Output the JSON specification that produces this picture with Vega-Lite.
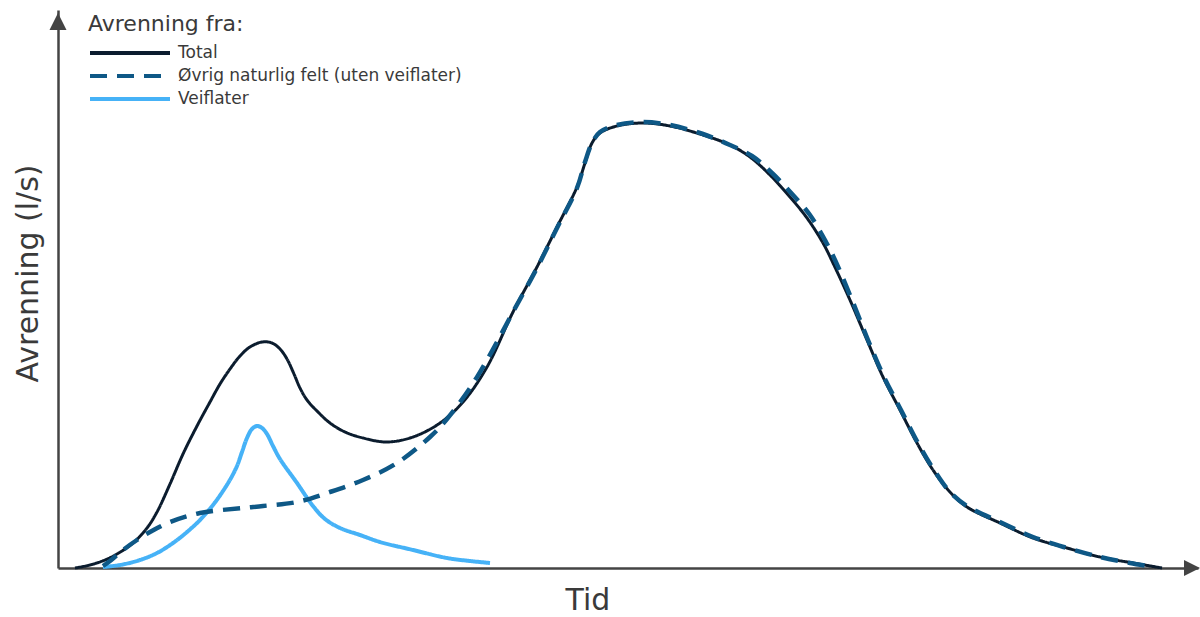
{
  "$schema": "https://vega.github.io/schema/vega-lite/v6.json",
  "width": 1140,
  "height": 558,
  "autosize": {"type": "none"},
  "padding": {"left": 58, "top": 10, "right": 2, "bottom": 49},
  "background": "white",
  "config": {
    "view": {"stroke": null},
    "font": "DejaVu Sans"
  },
  "datasets": {
    "curves": [
      {"series": "Total", "t": 75, "q": 0},
      {"series": "Total", "t": 90, "q": 3},
      {"series": "Total", "t": 105, "q": 8},
      {"series": "Total", "t": 117, "q": 14},
      {"series": "Total", "t": 133, "q": 25},
      {"series": "Total", "t": 147, "q": 40},
      {"series": "Total", "t": 157, "q": 56},
      {"series": "Total", "t": 170, "q": 84},
      {"series": "Total", "t": 183, "q": 114},
      {"series": "Total", "t": 197, "q": 142},
      {"series": "Total", "t": 210, "q": 166},
      {"series": "Total", "t": 220, "q": 184},
      {"series": "Total", "t": 230, "q": 199},
      {"series": "Total", "t": 240, "q": 212},
      {"series": "Total", "t": 250, "q": 221},
      {"series": "Total", "t": 262, "q": 226},
      {"series": "Total", "t": 272, "q": 225},
      {"series": "Total", "t": 280, "q": 219},
      {"series": "Total", "t": 287, "q": 209},
      {"series": "Total", "t": 294, "q": 194},
      {"series": "Total", "t": 300, "q": 180},
      {"series": "Total", "t": 307, "q": 168},
      {"series": "Total", "t": 318, "q": 156},
      {"series": "Total", "t": 330, "q": 145},
      {"series": "Total", "t": 345, "q": 136},
      {"series": "Total", "t": 363, "q": 130},
      {"series": "Total", "t": 387, "q": 126},
      {"series": "Total", "t": 413, "q": 131},
      {"series": "Total", "t": 440, "q": 145},
      {"series": "Total", "t": 463, "q": 166},
      {"series": "Total", "t": 487, "q": 201},
      {"series": "Total", "t": 513, "q": 256},
      {"series": "Total", "t": 537, "q": 301},
      {"series": "Total", "t": 557, "q": 341},
      {"series": "Total", "t": 577, "q": 381},
      {"series": "Total", "t": 585, "q": 405},
      {"series": "Total", "t": 592, "q": 425},
      {"series": "Total", "t": 600, "q": 435},
      {"series": "Total", "t": 617, "q": 442},
      {"series": "Total", "t": 643, "q": 445},
      {"series": "Total", "t": 670, "q": 442},
      {"series": "Total", "t": 703, "q": 433},
      {"series": "Total", "t": 730, "q": 423},
      {"series": "Total", "t": 750, "q": 411},
      {"series": "Total", "t": 770, "q": 393},
      {"series": "Total", "t": 790, "q": 371},
      {"series": "Total", "t": 807, "q": 350},
      {"series": "Total", "t": 823, "q": 325},
      {"series": "Total", "t": 833, "q": 305},
      {"series": "Total", "t": 850, "q": 268},
      {"series": "Total", "t": 867, "q": 228},
      {"series": "Total", "t": 883, "q": 191},
      {"series": "Total", "t": 900, "q": 158},
      {"series": "Total", "t": 917, "q": 125},
      {"series": "Total", "t": 933, "q": 98},
      {"series": "Total", "t": 950, "q": 76},
      {"series": "Total", "t": 967, "q": 61},
      {"series": "Total", "t": 1000, "q": 45},
      {"series": "Total", "t": 1033, "q": 30},
      {"series": "Total", "t": 1067, "q": 20},
      {"series": "Total", "t": 1100, "q": 11},
      {"series": "Total", "t": 1133, "q": 5},
      {"series": "Total", "t": 1162, "q": 0},

      {"series": "Øvrig naturlig felt (uten veiflater)", "t": 103, "q": 2},
      {"series": "Øvrig naturlig felt (uten veiflater)", "t": 110, "q": 7},
      {"series": "Øvrig naturlig felt (uten veiflater)", "t": 123, "q": 18},
      {"series": "Øvrig naturlig felt (uten veiflater)", "t": 137, "q": 28},
      {"series": "Øvrig naturlig felt (uten veiflater)", "t": 150, "q": 36},
      {"series": "Øvrig naturlig felt (uten veiflater)", "t": 170, "q": 46},
      {"series": "Øvrig naturlig felt (uten veiflater)", "t": 200, "q": 55},
      {"series": "Øvrig naturlig felt (uten veiflater)", "t": 243, "q": 60},
      {"series": "Øvrig naturlig felt (uten veiflater)", "t": 263, "q": 62},
      {"series": "Øvrig naturlig felt (uten veiflater)", "t": 297, "q": 66},
      {"series": "Øvrig naturlig felt (uten veiflater)", "t": 330, "q": 76},
      {"series": "Øvrig naturlig felt (uten veiflater)", "t": 363, "q": 88},
      {"series": "Øvrig naturlig felt (uten veiflater)", "t": 397, "q": 105},
      {"series": "Øvrig naturlig felt (uten veiflater)", "t": 430, "q": 131},
      {"series": "Øvrig naturlig felt (uten veiflater)", "t": 447, "q": 149},
      {"series": "Øvrig naturlig felt (uten veiflater)", "t": 470, "q": 180},
      {"series": "Øvrig naturlig felt (uten veiflater)", "t": 487, "q": 208},
      {"series": "Øvrig naturlig felt (uten veiflater)", "t": 497, "q": 226},
      {"series": "Øvrig naturlig felt (uten veiflater)", "t": 513, "q": 256},
      {"series": "Øvrig naturlig felt (uten veiflater)", "t": 537, "q": 300},
      {"series": "Øvrig naturlig felt (uten veiflater)", "t": 557, "q": 340},
      {"series": "Øvrig naturlig felt (uten veiflater)", "t": 577, "q": 380},
      {"series": "Øvrig naturlig felt (uten veiflater)", "t": 585, "q": 406},
      {"series": "Øvrig naturlig felt (uten veiflater)", "t": 592, "q": 425},
      {"series": "Øvrig naturlig felt (uten veiflater)", "t": 600, "q": 436},
      {"series": "Øvrig naturlig felt (uten veiflater)", "t": 617, "q": 443},
      {"series": "Øvrig naturlig felt (uten veiflater)", "t": 643, "q": 446},
      {"series": "Øvrig naturlig felt (uten veiflater)", "t": 670, "q": 443},
      {"series": "Øvrig naturlig felt (uten veiflater)", "t": 703, "q": 434},
      {"series": "Øvrig naturlig felt (uten veiflater)", "t": 730, "q": 423},
      {"series": "Øvrig naturlig felt (uten veiflater)", "t": 752, "q": 412},
      {"series": "Øvrig naturlig felt (uten veiflater)", "t": 772, "q": 395},
      {"series": "Øvrig naturlig felt (uten veiflater)", "t": 793, "q": 373},
      {"series": "Øvrig naturlig felt (uten veiflater)", "t": 810, "q": 353},
      {"series": "Øvrig naturlig felt (uten veiflater)", "t": 826, "q": 326},
      {"series": "Øvrig naturlig felt (uten veiflater)", "t": 835, "q": 308},
      {"series": "Øvrig naturlig felt (uten veiflater)", "t": 852, "q": 268},
      {"series": "Øvrig naturlig felt (uten veiflater)", "t": 868, "q": 228},
      {"series": "Øvrig naturlig felt (uten veiflater)", "t": 884, "q": 191},
      {"series": "Øvrig naturlig felt (uten veiflater)", "t": 901, "q": 158},
      {"series": "Øvrig naturlig felt (uten veiflater)", "t": 918, "q": 125},
      {"series": "Øvrig naturlig felt (uten veiflater)", "t": 934, "q": 98},
      {"series": "Øvrig naturlig felt (uten veiflater)", "t": 950, "q": 76},
      {"series": "Øvrig naturlig felt (uten veiflater)", "t": 967, "q": 62},
      {"series": "Øvrig naturlig felt (uten veiflater)", "t": 1000, "q": 46},
      {"series": "Øvrig naturlig felt (uten veiflater)", "t": 1033, "q": 31},
      {"series": "Øvrig naturlig felt (uten veiflater)", "t": 1067, "q": 20},
      {"series": "Øvrig naturlig felt (uten veiflater)", "t": 1100, "q": 11},
      {"series": "Øvrig naturlig felt (uten veiflater)", "t": 1130, "q": 5},
      {"series": "Øvrig naturlig felt (uten veiflater)", "t": 1147, "q": 2},

      {"series": "Veiflater", "t": 103, "q": 1},
      {"series": "Veiflater", "t": 120, "q": 3},
      {"series": "Veiflater", "t": 140, "q": 8},
      {"series": "Veiflater", "t": 157, "q": 15},
      {"series": "Veiflater", "t": 173, "q": 25},
      {"series": "Veiflater", "t": 187, "q": 36},
      {"series": "Veiflater", "t": 200, "q": 48},
      {"series": "Veiflater", "t": 213, "q": 63},
      {"series": "Veiflater", "t": 223, "q": 77},
      {"series": "Veiflater", "t": 231, "q": 90},
      {"series": "Veiflater", "t": 237, "q": 102},
      {"series": "Veiflater", "t": 242, "q": 116},
      {"series": "Veiflater", "t": 247, "q": 130},
      {"series": "Veiflater", "t": 252, "q": 139},
      {"series": "Veiflater", "t": 257, "q": 142},
      {"series": "Veiflater", "t": 262, "q": 140},
      {"series": "Veiflater", "t": 267, "q": 134},
      {"series": "Veiflater", "t": 273, "q": 122},
      {"series": "Veiflater", "t": 280, "q": 109},
      {"series": "Veiflater", "t": 297, "q": 85},
      {"series": "Veiflater", "t": 313, "q": 62},
      {"series": "Veiflater", "t": 325, "q": 49},
      {"series": "Veiflater", "t": 340, "q": 40},
      {"series": "Veiflater", "t": 360, "q": 33},
      {"series": "Veiflater", "t": 380, "q": 26},
      {"series": "Veiflater", "t": 413, "q": 18},
      {"series": "Veiflater", "t": 447, "q": 10},
      {"series": "Veiflater", "t": 470, "q": 7},
      {"series": "Veiflater", "t": 490, "q": 5}
    ]
  },
  "layer": [
    {
      "data": {"name": "curves"},
      "transform": [{"filter": "datum.series === 'Veiflater'"}],
      "mark": {"type": "line", "interpolate": "catmull-rom", "strokeWidth": 4},
      "encoding": {
        "x": {"field": "t", "type": "quantitative", "scale": {"domain": [58, 1198], "nice": false, "zero": false},
          "axis": {"title": "Tid", "domain": true, "domainColor": "#444444", "domainWidth": 2.5, "ticks": false, "labels": false, "grid": false,
            "titleFont": "DejaVu Sans", "titleFontSize": 30, "titleFontWeight": "normal", "titleColor": "#3a3a3a",
            "titleX": 529.5, "titleY": 41, "titleBaseline": "alphabetic", "titleAlign": "center"}},
        "y": {"field": "q", "type": "quantitative", "scale": {"domain": [0, 558], "nice": false, "zero": false},
          "axis": {"title": "Avrenning (l/s)", "domain": true, "domainColor": "#444444", "domainWidth": 2.5, "ticks": false, "labels": false, "grid": false,
            "titleFont": "DejaVu Sans", "titleFontSize": 30, "titleFontWeight": "normal", "titleColor": "#3a3a3a",
            "titleX": -21, "titleY": 263, "titleAngle": -90, "titleBaseline": "alphabetic", "titleAlign": "center"}},
        "color": {"field": "series", "type": "nominal",
          "scale": {"domain": ["Total", "Øvrig naturlig felt (uten veiflater)", "Veiflater"], "range": ["#0b1c2e", "#0e5886", "#46b2f7"]},
          "legend": {"title": "Avrenning fra:", "orient": "none", "legendX": 30, "legendY": 4, "padding": 0,
            "titleFont": "DejaVu Sans", "titleFontSize": 22, "titleFontWeight": "normal", "titleColor": "#3a3a3a", "titlePadding": 7,
            "labelFont": "DejaVu Sans", "labelFontSize": 17, "labelColor": "#3a3a3a", "labelOffset": 70, "labelLimit": 600,
            "symbolType": "M-1,0L9,0", "symbolSize": 256, "symbolStrokeWidth": 4, "rowPadding": 5}},
        "strokeDash": {"field": "series", "type": "nominal",
          "scale": {"domain": ["Total", "Øvrig naturlig felt (uten veiflater)", "Veiflater"], "range": [[1, 0], [17, 10], [1, 0]]},
          "legend": {"title": "Avrenning fra:"}}
      }
    },
    {
      "data": {"name": "curves"},
      "transform": [{"filter": "datum.series === 'Total'"}],
      "mark": {"type": "line", "interpolate": "catmull-rom", "strokeWidth": 3},
      "encoding": {
        "x": {"field": "t", "type": "quantitative"},
        "y": {"field": "q", "type": "quantitative"},
        "color": {"field": "series", "type": "nominal"},
        "strokeDash": {"field": "series", "type": "nominal"}
      }
    },
    {
      "data": {"name": "curves"},
      "transform": [{"filter": "datum.series === 'Øvrig naturlig felt (uten veiflater)'"}],
      "mark": {"type": "line", "interpolate": "catmull-rom", "strokeWidth": 4.5},
      "encoding": {
        "x": {"field": "t", "type": "quantitative"},
        "y": {"field": "q", "type": "quantitative"},
        "color": {"field": "series", "type": "nominal"},
        "strokeDash": {"field": "series", "type": "nominal"}
      }
    },
    {
      "data": {"values": [{"t": 58, "q": 546.5}]},
      "mark": {"type": "point", "shape": "M0,-1L1,1L-1,1Z", "size": 289, "filled": true, "color": "#444444", "opacity": 1},
      "encoding": {
        "x": {"field": "t", "type": "quantitative"},
        "y": {"field": "q", "type": "quantitative"}
      }
    },
    {
      "data": {"values": [{"t": 1192, "q": 0}]},
      "mark": {"type": "point", "shape": "M1,0L-1,-1L-1,1Z", "size": 256, "filled": true, "color": "#444444", "opacity": 1},
      "encoding": {
        "x": {"field": "t", "type": "quantitative"},
        "y": {"field": "q", "type": "quantitative"}
      }
    }
  ]
}
